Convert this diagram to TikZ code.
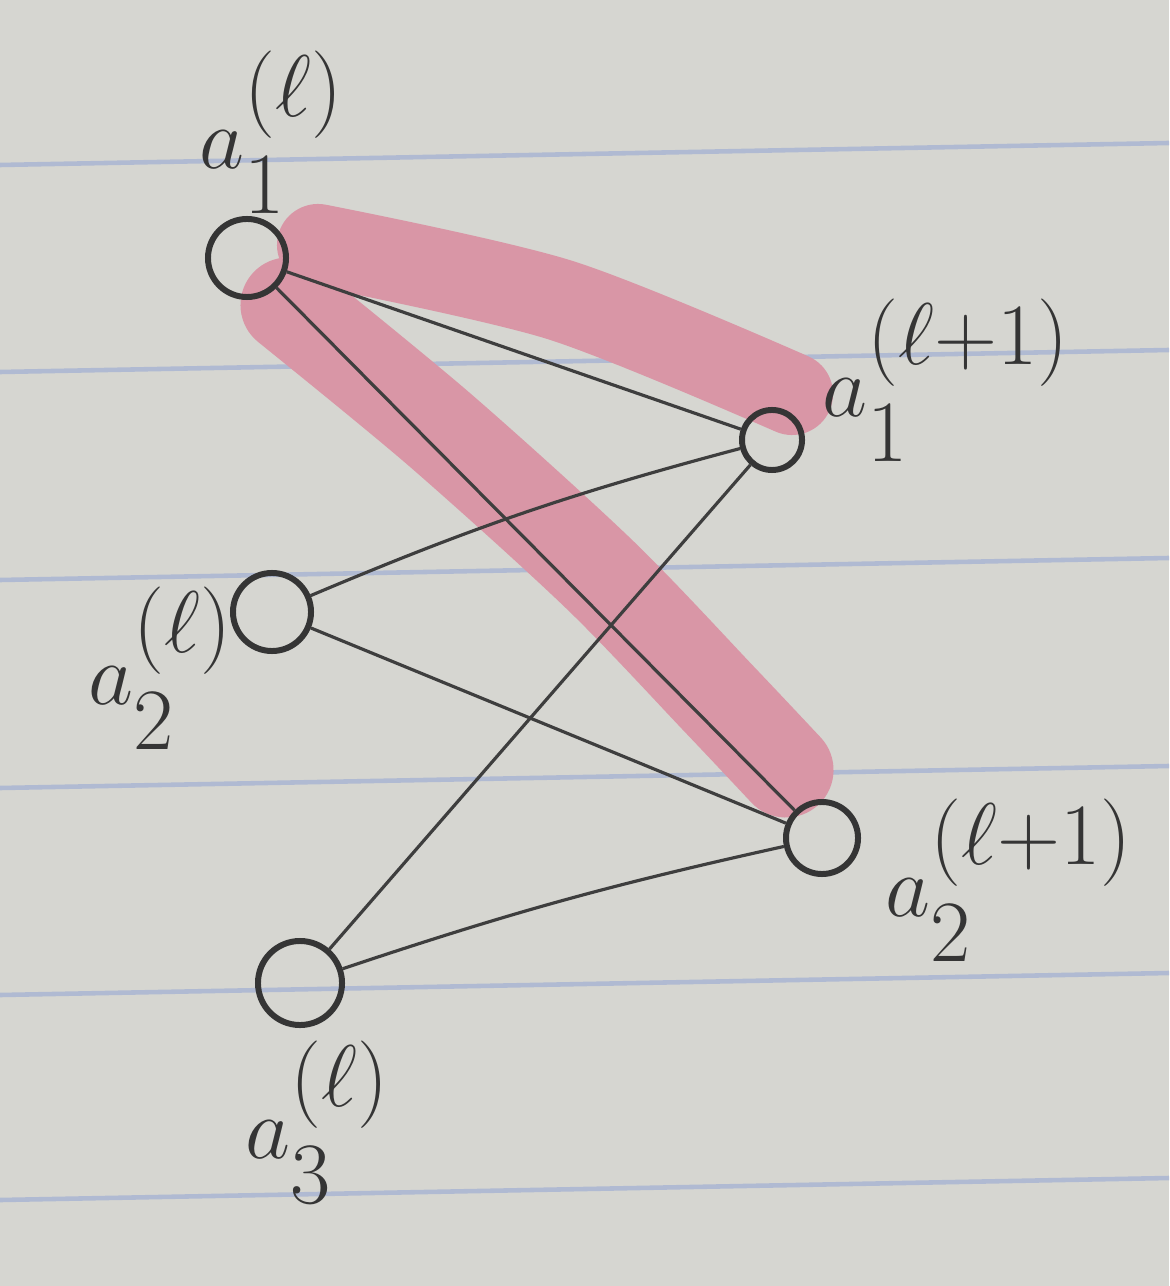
\documentclass[tikz,border=0pt]{standalone}
\usepackage{amsmath,amssymb}
\definecolor{paper}{RGB}{214,214,209}
\definecolor{ruling}{RGB}{176,186,210}
\definecolor{marker}{RGB}{217,150,166}
\definecolor{pencil}{RGB}{62,62,62}

\begin{document}
\begin{tikzpicture}[x=0.01cm,y=-0.01cm,
  neuron/.style={draw=pencil!85!black,line width=1.7pt,circle,inner sep=0pt},
  wire/.style={draw=pencil,line width=0.9pt},
  hl/.style={draw=marker,line cap=round,line join=round},
  lbl/.style={font=\fontsize{34}{40}\selectfont,text=pencil!85!black,inner sep=0pt}]
\fill[paper] (0,0) rectangle (1169,1286);
\useasboundingbox (0,0) rectangle (1169,1286);
\foreach \y in {165,372,580,788,995,1200}
  \draw[ruling,line width=1.3pt] (0,\y) -- (1169,\y-22);
\draw[hl,line width=0.82cm] plot[smooth] coordinates {(318,245) (560,300) (792,394)};
\draw[hl,line width=0.95cm] plot[smooth] coordinates {(288,305) (440,430) (600,575) (720,700) (786,770)};
\node[neuron,minimum size=0.78cm] (a1) at (247,258) {};
\node[neuron,minimum size=0.78cm] (a2) at (272,612) {};
\node[neuron,minimum size=0.84cm] (a3) at (300,983) {};
\node[neuron,minimum size=0.6cm] (b1) at (772,440) {};
\node[neuron,minimum size=0.72cm] (b2) at (822,838) {};
\node[lbl] (la1) at (272,132) {$a_1^{(\ell)}$};
\node[lbl,anchor=west] (lb1) at (822,380) {$a_1^{(\ell+1)}$};
\node[lbl,anchor=east] (la2) at (234,668) {$a_2^{(\ell)}$};
\node[lbl,anchor=west] (lb2) at (885,880) {$a_2^{(\ell+1)}$};
\node[lbl,anchor=north] (la3) at (318,1040) {$a_3^{(\ell)}$};
\draw[wire] (a1) -- (b1);
\draw[wire] (a1) -- (b2);
\draw[wire] (a2) to[bend left=4] (b1);
\draw[wire] (a2) -- (b2);
\draw[wire] (a3) -- (b1);
\draw[wire] (a3) to[bend left=3] (b2);
\end{tikzpicture}
\end{document}
